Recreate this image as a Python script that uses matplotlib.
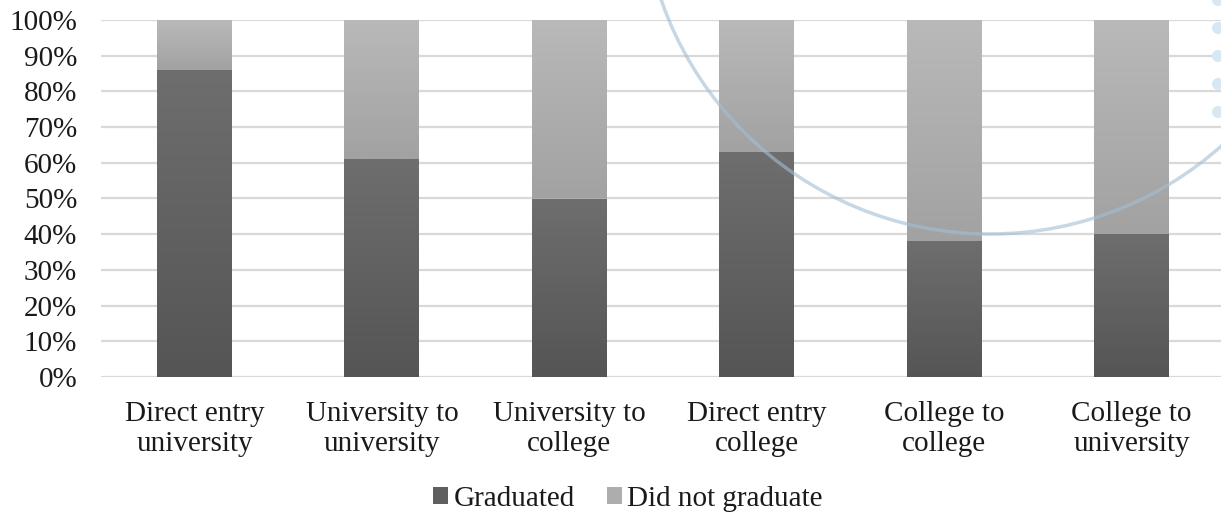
import matplotlib
matplotlib.use('Agg')
import matplotlib.pyplot as plt
import matplotlib.patches as mpatches
from matplotlib.ticker import PercentFormatter
import numpy as np

# Pathways and graduation shares (percent)
categories = ['Direct entry\nuniversity', 'University to\nuniversity', 'University to\ncollege',
              'Direct entry\ncollege', 'College to\ncollege', 'College to\nuniversity']
graduated = [86, 61, 50, 63, 38, 40]
did_not_graduate = [100 - g for g in graduated]

plt.rcParams['font.family'] = ['Liberation Serif', 'DejaVu Serif']

fig = plt.figure(figsize=(12.21, 5.19), dpi=100)
ax = fig.add_axes([100.8 / 1221, 142 / 519, 1124.4 / 1221, 357 / 519])

x = np.arange(len(categories))
width = 0.4
bars_grad = ax.bar(x, graduated, width, color='#5f5f5f', label='Graduated', zorder=2)
bars_not = ax.bar(x, did_not_graduate, width, bottom=graduated, color='#adadad',
                  label='Did not graduate', zorder=2)


# vertical shading inside each bar segment
def shade(bars, top_col, bot_col):
    top = np.array(matplotlib.colors.to_rgb(top_col))
    bot = np.array(matplotlib.colors.to_rgb(bot_col))
    t = np.linspace(0, 1, 64)[:, None]
    grad = (bot + (top - bot) * t)[:, None, :]
    for rect in bars:
        x0, y0 = rect.get_x(), rect.get_y()
        im = ax.imshow(grad, extent=(x0, x0 + rect.get_width(), y0, y0 + rect.get_height()),
                       origin='lower', aspect='auto', zorder=2.5, interpolation='bilinear')
        im.set_clip_path(rect)


shade(bars_grad, '#6e6e6e', '#555555')
shade(bars_not, '#b9b9b9', '#a2a2a2')

ax.set_xlim(-0.5, len(categories) - 0.5)
ax.set_ylim(0, 100)
ax.set_yticks(np.arange(0, 101, 10))
ax.yaxis.set_major_formatter(PercentFormatter(decimals=0))
ax.grid(axis='y', color='#d9d9d9', linewidth=1.6, zorder=0)
ax.set_axisbelow(True)
for s in ax.spines.values():
    s.set_visible(False)
ax.tick_params(length=0, labelsize=21, colors='#1a1a1a')
ax.tick_params(axis='y', pad=17)
ax.tick_params(axis='x', pad=17)
ax.set_xticks(x)
ax.set_xticklabels(categories, linespacing=1.2)

# faint logo arc and dots in the background
ident = matplotlib.transforms.IdentityTransform()
arc = mpatches.Circle((990, 519 + 114), 348, fill=False, edgecolor='#a3bfd3',
                      linewidth=2.5, alpha=0.6, zorder=5, transform=ident)
fig.patches.append(arc)
for yy in [0, 28, 56, 84, 112]:
    dot = mpatches.Circle((1218, 519 - yy), 6, facecolor='#d6e8f3', edgecolor='none',
                          transform=ident, zorder=5)
    fig.patches.append(dot)

leg = fig.legend(handles=[bars_grad, bars_not], loc='center', bbox_to_anchor=(628 / 1221, 20 / 519),
                 ncol=2, frameon=False, fontsize=21, handlelength=0.5, handleheight=0.5,
                 handletextpad=0.2, columnspacing=1.1)
for t in leg.get_texts():
    t.set_color('#1a1a1a')

fig.savefig('out.png', dpi=100)
